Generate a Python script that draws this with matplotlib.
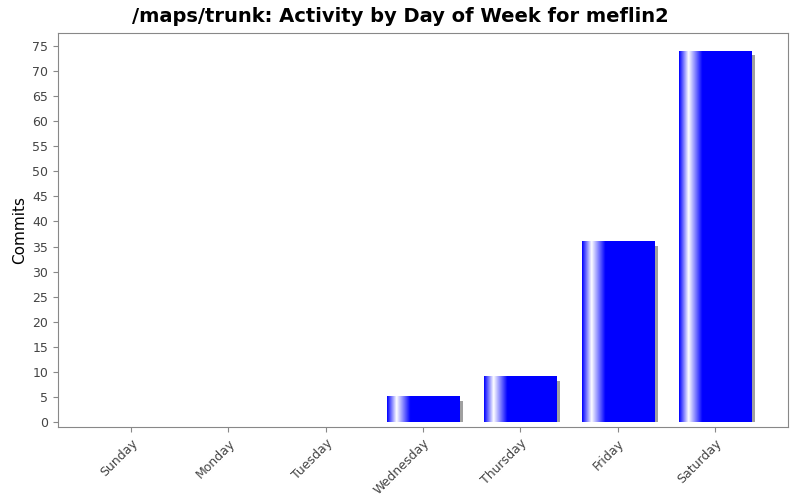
import numpy as np
import matplotlib
matplotlib.use("Agg")
import matplotlib.pyplot as plt
from matplotlib.colors import LinearSegmentedColormap

days = ["Sunday", "Monday", "Tuesday", "Wednesday", "Thursday", "Friday", "Saturday"]
commits = [0, 0, 0, 5, 9, 36, 74]

fig = plt.figure(figsize=(8, 5), dpi=100)
ax = fig.add_axes([0.0725, 0.146, 0.9125, 0.788])

cmap = LinearSegmentedColormap.from_list("bar", [(0, "#0000ff"), (0.13, "#ffffff"), (0.32, "#0000ff"), (1, "#0000ff")])
grad = np.linspace(0, 1, 256).reshape(1, -1)
w = 0.74
for i, v in enumerate(commits):
    if v <= 0:
        continue
    x0 = i - w / 2
    # shadow, offset right and down, clipped at the baseline
    ax.add_patch(plt.Rectangle((x0 + 0.041, 0), w, v - 0.8, color="#a0a0a0", zorder=1, lw=0))
    ax.imshow(grad, cmap=cmap, extent=[x0, x0 + w, 0, v], aspect="auto", zorder=2)

ax.set_xlim(-0.75, 6.75)
ax.set_ylim(-1, 77.6)
ax.set_xticks(range(len(days)))
ax.set_xticklabels(days, rotation=45, ha="right", rotation_mode="anchor", fontsize=9, color="#444444")
ax.set_yticks(range(0, 80, 5))
ax.tick_params(axis="y", labelsize=9, labelcolor="#444444", color="#888888")
ax.tick_params(axis="x", color="#888888")
for s in ax.spines.values():
    s.set_color("#888888")
ax.set_ylabel("Commits", fontsize=11)
fig.suptitle("/maps/trunk: Activity by Day of Week for meflin2", fontsize=14, fontweight="bold", y=0.985)

fig.savefig("out.png")
